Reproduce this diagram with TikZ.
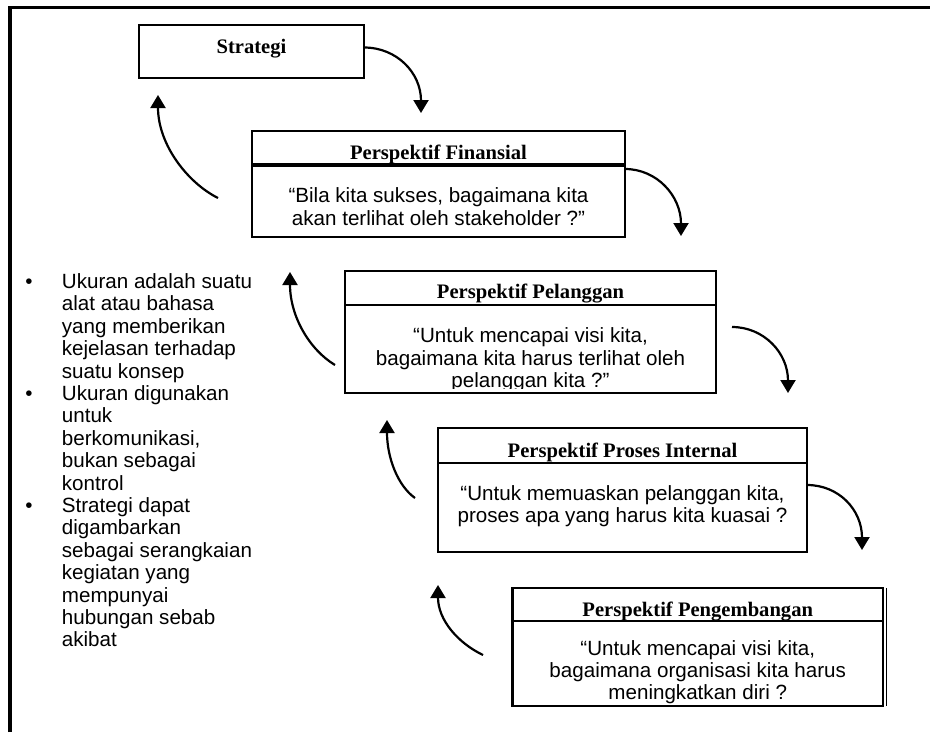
\documentclass[tikz,border=0pt]{standalone}
\usepackage{fontspec}
\setmainfont{Liberation Serif}
\setsansfont{Liberation Sans}
\usetikzlibrary{arrows.meta,positioning,calc}

\newcommand{\hurufisi}{\sffamily\fontsize{20.6}{22.4}\selectfont}
\newcommand{\hurufjudul}{\rmfamily\bfseries\fontsize{20.6}{22.4}\selectfont}

\tikzset{
    kotak/.style={draw, line width=2.3pt, inner sep=0pt, outer sep=0pt},
    judul/.style={kotak, font=\hurufjudul, text height=28pt, text depth=7pt},
    isi/.style={align=center, font=\hurufisi, inner sep=0pt},
    daftar/.style={align=left, font=\hurufisi, inner sep=0pt, anchor=north west},
    butir/.style={font=\hurufisi, inner sep=0pt, anchor=base},
    panah/.style={line width=2.2pt, -{Triangle[length=13pt,width=15pt]}},
}

\begin{document}
\begin{tikzpicture}[x=1pt,y=-1pt]
    \useasboundingbox (0,0) rectangle (930,732);
    % bingkai
    \draw[line width=3.2pt] (10,732) -- (10,7.7) -- (930,7.7);

    % strategi
    \node[judul, text height=28.5pt, text depth=24.5pt, minimum width=225pt, anchor=north west] (strategi) at (139,25) {Strategi};

    % perspektif finansial
    \node[judul, text depth=5pt, minimum width=373pt, anchor=north west] (finansial) at (252,131) {Perspektif Finansial};
    \node[kotak, minimum width=373pt, minimum height=71pt, below=2pt of finansial] (finansialisi) {};
    \node[isi, below=21.7pt of finansialisi.north] (tanyafinansial) {“Bila kita sukses, bagaimana kita\\akan terlihat oleh stakeholder ?”};

    % perspektif pelanggan
    \node[judul, text height=27pt, minimum width=371pt, anchor=north west] (pelanggan) at (345,271) {Perspektif Pelanggan};
    \node[kotak, minimum width=371pt, minimum height=88pt, below=0pt of pelanggan] (pelangganisi) {};
    \begin{scope}
        \clip (pelangganisi.north west) rectangle ([yshift=5pt]pelangganisi.south east);
        \node[isi, below=22.7pt of pelangganisi.north] (tanyapelanggan) {“Untuk mencapai visi kita,\\bagaimana kita harus terlihat oleh\\pelanggan kita ?”};
    \end{scope}

    % perspektif proses internal
    \node[judul, text height=29pt, text depth=6pt, minimum width=369pt, anchor=north west] (proses) at (438,428) {Perspektif Proses Internal};
    \node[kotak, minimum width=369pt, minimum height=89pt, below=0pt of proses] (prosesisi) {};
    \node[isi, below=22pt of prosesisi.north] (tanyaproses) {“Untuk memuaskan pelanggan kita,\\proses apa yang harus kita kuasai ?};

    % perspektif pengembangan
    \node[judul, text height=28pt, text depth=5pt, minimum width=370.5pt, anchor=north west] (pengembangan) at (512.5,588) {Perspektif Pengembangan};
    \node[kotak, minimum width=370.5pt, minimum height=85pt, below=0pt of pengembangan] (pengembanganisi) {};
    \draw[line width=1.2pt] ([xshift=3.5pt]pengembangan.north east) -- ([xshift=3.5pt]pengembanganisi.south east);
    \begin{scope}
        \clip (pengembanganisi.north west) rectangle ([yshift=1.5pt]pengembanganisi.south east);
        \node[isi, below=19pt of pengembanganisi.north] (tanyapengembangan) {“Untuk mencapai visi kita,\\bagaimana organisasi kita harus\\meningkatkan diri ?};
    \end{scope}

    % keterangan di kiri
    \node[butir] (titik1) at (29,288.3) {\textbullet};
    \node[daftar] (ukuran1) at (61.7,273.3) {Ukuran adalah suatu\\alat atau bahasa\\yang memberikan\\kejelasan terhadap\\suatu konsep};
    \node[butir] (titik2) at (29,400.3) {\textbullet};
    \node[daftar] (ukuran2) at (61.7,385.3) {Ukuran digunakan\\untuk\\berkomunikasi,\\bukan sebagai\\kontrol};
    \node[butir] (titik3) at (29,512.3) {\textbullet};
    \node[daftar] (ukuran3) at (61.7,497.3) {Strategi dapat\\digambarkan\\sebagai serangkaian\\kegiatan yang\\mempunyai\\hubungan sebab\\akibat};

    % panah turun
    \coordinate (turun1) at (421,113);
    \coordinate (turun2) at (681,236);
    \coordinate (pangkal3) at (732,327);
    \coordinate (turun3) at (788,393);
    \coordinate (turun4) at (862,550);
    \draw[panah] ([yshift=4pt]strategi.east) .. controls +(33,0) and +(0,-40) .. (turun1);
    \draw[panah] ([yshift=-3pt]finansialisi.north east) .. controls +(32,0) and +(0,-40) .. (turun2);
    \draw[panah] (pangkal3) .. controls +(32,0) and +(0,-40) .. (turun3);
    \draw[panah] ([yshift=-22pt]prosesisi.north east) .. controls +(32,0) and +(0,-40) .. (turun4);

    % panah balik
    \coordinate (balik1) at (218,198);
    \coordinate (naik1) at (158,95);
    \coordinate (balik2) at (335,365);
    \coordinate (naik2) at (290,272);
    \coordinate (balik3) at (415,498);
    \coordinate (naik3) at (387,420);
    \coordinate (balik4) at (483,655);
    \coordinate (naik4) at (438,585);
    \draw[panah] (balik1) .. controls +(-30,-15) and +(0,50) .. (naik1);
    \draw[panah] (balik2) .. controls +(-25,-15) and +(0,45) .. (naik2);
    \draw[panah] (balik3) .. controls +(-17,-12) and +(0,38) .. (naik3);
    \draw[panah] (balik4) .. controls +(-25,-12) and +(0,35) .. (naik4);
\end{tikzpicture}
\end{document}
